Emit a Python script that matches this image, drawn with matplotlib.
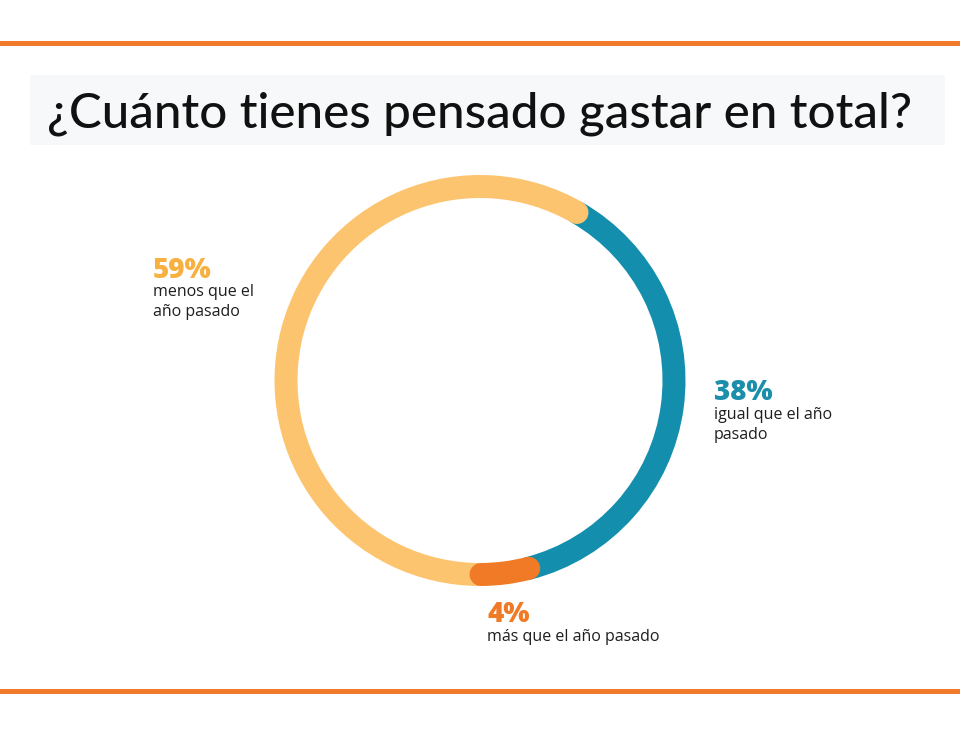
import matplotlib
matplotlib.use("Agg")
import matplotlib.pyplot as plt
from matplotlib.patches import Arc, Rectangle

# ── Data ──
labels = ["igual que el año\npasado", "más que el año pasado", "menos que el\naño pasado"]
values = [38, 4, 59]
colors = ["#138fad", "#f07a25", "#fdc46f"]
pct_colors = ["#1a8eab", "#f07a25", "#f8b040"]
title = "¿Cuánto tienes pensado gastar en total?"

# ── Layout (pixels, image coords) ──
W, H = 960, 736
CX, CY = 480, 380.5
R = 194
RING_PX = 23
START = 30  # degrees clockwise from 12 o'clock
ORANGE = "#f07a2a"
DARK = "#1e1e1e"

fig = plt.figure(figsize=(W / 100, H / 100), dpi=100)
ax = fig.add_axes([0, 0, 1, 1])
ax.set_xlim(0, W)
ax.set_ylim(0, H)
ax.set_aspect("equal")
ax.axis("off")


def Y(y):
    return H - y


# orange rules
ax.add_patch(Rectangle((0, Y(46)), W, 5, color=ORANGE, lw=0))
ax.add_patch(Rectangle((0, Y(694)), W, 5, color=ORANGE, lw=0))

# title band
ax.add_patch(Rectangle((30, Y(145)), 915, 70, color="#f6f8f9", lw=0))
ax.text(W / 2, Y(114), title, ha="center", va="center", fontsize=35.5,
        family="Lato", fontweight="medium", color="#111111")

# ring segments, clockwise from START
total = sum(values)
lw_pt = RING_PX * 72 / 100
a = START
spans = []
for v in values:
    span = v / total * 360
    spans.append((a, a + span))
    a += span

zorders = [1, 3, 2]
for (a0, a1), c, z in zip(spans, colors, zorders):
    arc = Arc((CX, Y(CY)), 2 * R, 2 * R, theta1=90 - a1, theta2=90 - a0,
              color=c, lw=lw_pt, zorder=z)
    arc.set_capstyle("round")
    ax.add_patch(arc)

# labels: (x, y of percentage)
label_pos = [(714, 393), (487, 615), (153, 270)]
for (x, y), v, lab, pc in zip(label_pos, values, labels, pct_colors):
    ax.text(x, Y(y), f"{v}%", ha="left", va="center", fontsize=20,
            fontweight="heavy", family="Open Sans", color=pc)
    ax.text(x, Y(y + 14), lab, ha="left", va="top", fontsize=11.5,
            family="Open Sans", color=DARK, linespacing=1.3)

fig.savefig("out.png", dpi=100, facecolor="white")
plt.close(fig)
